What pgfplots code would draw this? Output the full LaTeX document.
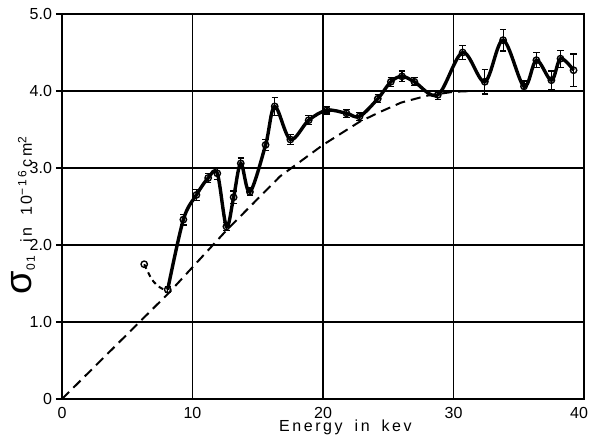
\documentclass[border=0pt]{standalone}
\usepackage{fontspec}
\setmainfont{Liberation Sans}
\newfontfamily\wide{Liberation Sans}[LetterSpace=16]
\usepackage{pgfplots}
\pgfplotsset{compat=1.18}
\usepackage{pgfplotstable}
\pgfplotstableread{
x y e
8.1 1.42 0.04
9.3 2.33 0.07
10.3 2.65 0.07
11.2 2.87 0.06
11.9 2.93 0.08
12.6 2.24 0.05
13.15 2.62 0.08
13.7 3.06 0.07
14.4 2.69 0.05
15.6 3.30 0.07
16.3 3.80 0.12
17.5 3.37 0.06
18.9 3.62 0.06
20.3 3.75 0.05
21.8 3.71 0.05
22.8 3.67 0.05
24.2 3.90 0.05
25.2 4.12 0.06
26.05 4.19 0.07
27.0 4.12 0.05
28.8 3.95 0.06
30.7 4.50 0.09
32.4 4.12 0.16
33.8 4.66 0.14
35.4 4.06 0.07
36.35 4.40 0.10
37.5 4.14 0.12
38.2 4.42 0.11
39.2 4.27 0.21
}\measured
\pgfplotstableread{
x y
0 0
8.2 1.38
12.6 2.19
16.7 2.89
20.0 3.30
22.8 3.60
24.4 3.73
26.0 3.85
28.0 3.94
30.0 3.99
31.5 4.00
}\theory
\pgfplotstableread{
x y
6.3 1.75
6.9 1.55
7.5 1.45
8.1 1.40
}\lowend
\begin{document}
\begin{tikzpicture}
\begin{axis}[
  scale only axis, width=261pt, height=192.5pt,
  xmin=0, xmax=40, ymin=0, ymax=5,
  xtick={0,10,20,30,40}, ytick={0,1,2,3,4,5},
  xticklabels={0,10,20,30,\hspace*{-5pt}40},
  yticklabels={0,1.0,2.0,3.0,4.0,5.0},
  /pgf/number format/assume math mode=true,
  grid=major, grid style={black, line width=0.8pt},
  axis line style={line width=1.2pt},
  xtick style={draw=none}, ytick style={black, line width=0.7pt},
  ytick pos=left, xtick pos=bottom, tick align=outside, major tick length=3pt,
  tick label style={font=\fontsize{8}{9}\selectfont},
  xticklabel style={yshift=2.5pt},
  yticklabel style={xshift=1.5pt},
  xlabel={Energy\hspace{6pt}in\hspace{6pt}kev},
  xlabel style={font=\wide\fontsize{8}{9}\selectfont, at={(axis description cs:0.543,0)}, anchor=base, yshift=-16.5pt},
  ylabel={{\fontsize{19}{19}\selectfont σ}\textsubscript{01}\hspace{6pt}in\hspace{6pt}10\textsuperscript{−16}\,cm\textsuperscript{2}},
  ylabel style={font=\wide\fontsize{8}{9}\selectfont, at={(axis description cs:-0.0575,0.478)}, anchor=base},
  clip=false,
]
\addplot[black, line width=1pt, dash pattern=on 5pt off 3pt] table[x=x,y=y] {\theory};
\addplot[black, line width=1pt, dash pattern=on 2.5pt off 2pt, smooth] table[x=x,y=y] {\lowend};
\addplot[black, line width=1.7pt, smooth, tension=0.55,
  mark=o, mark size=1.6pt, mark options={fill=white, line width=0.7pt, solid},
  error bars/.cd, y dir=both, y explicit,
  error bar style={line width=0.6pt},
  error mark options={rotate=90, mark size=1.6pt, line width=0.6pt}]
  table[x=x,y=y,y error=e] {\measured};
\addplot[only marks, mark=o, mark size=1.6pt, mark options={fill=white, line width=0.7pt}] coordinates {(6.3,1.75)};
\end{axis}
\pgfresetboundingbox
\path[use as bounding box] ([xshift=-31pt,yshift=-18pt]current axis.south west) rectangle ([xshift=3.5pt,yshift=7pt]current axis.north east);
\end{tikzpicture}
\end{document}
